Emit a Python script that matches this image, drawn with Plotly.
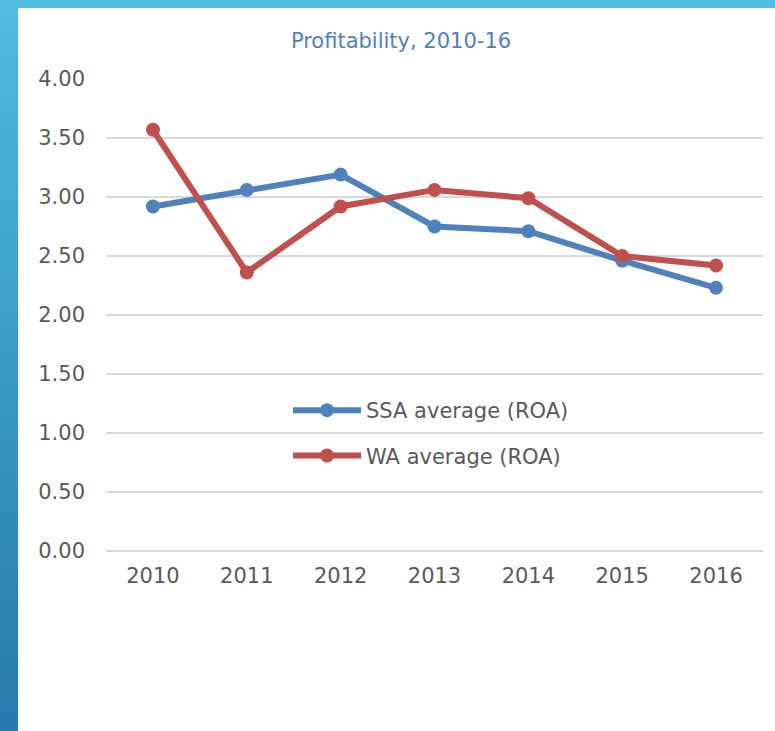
import plotly.graph_objects as go

years = ["2010", "2011", "2012", "2013", "2014", "2015", "2016"]
ssa_roa = [2.92, 3.06, 3.19, 2.75, 2.71, 2.46, 2.23]
wa_roa = [3.57, 2.36, 2.92, 3.06, 2.99, 2.50, 2.42]
y_ticks = [0, 0.5, 1.0, 1.5, 2.0, 2.5, 3.0, 3.5, 4.0]

W, H = 775, 731
L, R, T, B = 106, 12, 79, 180
pw, ph = W - L - R, H - T - B

FONT = "DejaVu Sans, Liberation Sans, Arial"
BLUE = "#4F81BD"
RED = "#C0504D"


def px_y(yp):
    """pixel y from top -> paper y"""
    return ((H - yp) - B) / ph


def px_x(xp):
    return (xp - L) / pw


fig = go.Figure()
fig.add_trace(go.Scatter(
    x=years, y=ssa_roa, name="SSA average (ROA)", mode="lines+markers",
    line=dict(color=BLUE, width=6), marker=dict(size=14, color=BLUE),
    legendgroup="a"))
fig.add_trace(go.Scatter(
    x=years, y=wa_roa, name="WA average (ROA)", mode="lines+markers",
    line=dict(color=RED, width=6), marker=dict(size=14, color=RED),
    legendgroup="b"))

# slide border: gradient left bar + top bar
shapes = []
n = 40
top_c = (0x4F, 0xBB, 0xDD)
bot_c = (0x27, 0x7A, 0xAD)
for i in range(n):
    f = i / (n - 1)
    c = tuple(int(round(top_c[k] + (bot_c[k] - top_c[k]) * f)) for k in range(3))
    ytop = i * H / n
    ybot = (i + 1) * H / n + 1
    shapes.append(dict(
        type="rect", xref="paper", yref="paper", layer="below",
        x0=px_x(0), x1=px_x(18), y0=px_y(ybot), y1=px_y(ytop),
        fillcolor="rgb(%d,%d,%d)" % c, line=dict(width=0)))
shapes.append(dict(
    type="rect", xref="paper", yref="paper", layer="below",
    x0=px_x(0), x1=px_x(W), y0=px_y(8), y1=px_y(0),
    fillcolor="#4FBBDD", line=dict(width=0)))

fig.update_layout(
    width=W, height=H,
    margin=dict(l=L, r=R, t=T, b=B),
    paper_bgcolor="white", plot_bgcolor="white",
    font=dict(family=FONT, color="#595959", size=21),
    title=dict(text="Profitability, 2010-16", x=401 / W, xanchor="center",
               y=1 - 41 / H, yanchor="middle",
               font=dict(family=FONT, size=21, color="#4F81BD")),
    xaxis=dict(type="category", showgrid=False, zeroline=False, showline=False,
               ticks="", tickfont=dict(size=21, color="#595959"),
               ticklabelstandoff=10, range=[-0.5, 6.5]),
    yaxis=dict(range=[0, 4], tickvals=y_ticks, tickformat=".2f",
               showgrid=True, gridcolor="#D9D9D9", gridwidth=2,
               zeroline=True, zerolinecolor="#D9D9D9", zerolinewidth=2,
               showline=False, ticks="", ticklabelstandoff=20,
               tickfont=dict(size=21, color="#595959")),
    legend=dict(x=px_x(288), y=px_y(390),
                xanchor="left", yanchor="top", bgcolor="rgba(0,0,0,0)",
                font=dict(size=21, color="#595959"), tracegroupgap=15,
                itemwidth=68),
    shapes=shapes,
    showlegend=True,
)

fig.write_html(
    "out.html",
    config={"displayModeBar": False},
    post_script="document.body.style.margin='0';document.body.style.padding='0';",
)
